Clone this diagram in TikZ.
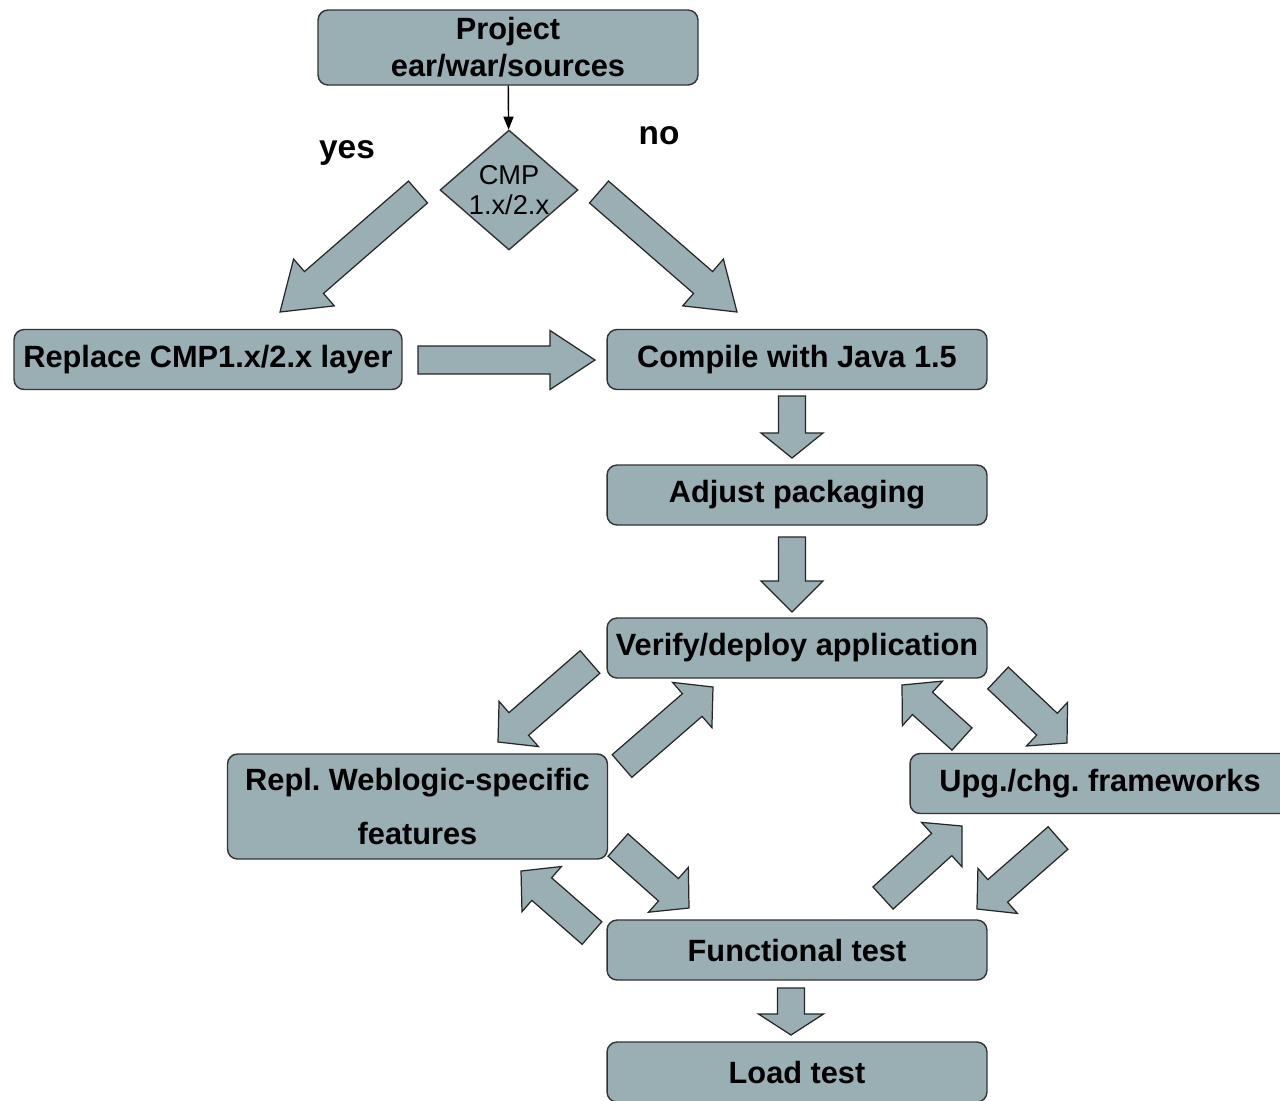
\documentclass[tikz,border=0pt]{standalone}
\usepackage{fontspec}
\setmainfont{Liberation Sans}
\usetikzlibrary{calc,shapes.geometric,arrows.meta}
\definecolor{boxgray}{RGB}{153,175,179}
% block arrow: tail, tip, shaft half width, head half width, head length
\newcommand{\fatarrow}[5]{%
  \draw[fatarr] ($#1!#3!90:#2$) -- ($#2!#5!#1!#3!-90:#1$) -- ($#2!#5!#1!#4!-90:#1$)
    -- #2 -- ($#2!#5!#1!#4!90:#1$) -- ($#2!#5!#1!#3!90:#1$) -- ($#1!#3!-90:#2$) -- cycle;}
\begin{document}
\begin{tikzpicture}[x=0.02cm, y=-0.02cm, font=\fontsize{17.5}{21}\selectfont\bfseries\frenchspacing,
          >={Stealth[length=0.26cm, width=0.2cm, inset=0pt]},
          box/.style={draw=black!80, fill=boxgray, rounded corners=0.2cm, line width=0.8pt,
                      minimum width=7.6cm, minimum height=1.2cm, align=center, inner sep=0pt},
          decide/.style={diamond, draw=black!80, fill=boxgray, line width=0.8pt, minimum width=2.76cm,
                         minimum height=2.4cm, inner sep=0pt, align=center, shape aspect=1.15,
                         font=\fontsize{15.5}{17}\selectfont},
          answer/.style={font=\fontsize{19}{22}\selectfont\bfseries},
          fatarr/.style={draw=black!85, fill=boxgray, line width=0.7pt, line join=miter}]
        \useasboundingbox (0,0) rectangle (1280,1100);
        \node[box, minimum height=1.5cm] (proj) at (508,47.5) {Project\\ear/war/sources};
        \node[decide] (cmp) at (509,190) {CMP\\1.x/2.x};
        \node[answer] (yes) at (347,153) {yes};
        \node[answer] (no) at (659,136) {no};
        \node[box, minimum width=7.76cm] (repl) at (208,359.5) {Replace CMP1.x/2.x layer};
        \node[box] (comp) at (797,359.5) {Compile with Java 1.5};
        \node[box] (pack) at (797,495) {Adjust packaging};
        \node[box] (veri) at (797,648) {Verify/deploy application};
        \node[box, minimum height=2.1cm] (wls) at (417.5,806.5) {Repl. Weblogic-specific\\[10pt]features};
        \node[box] (upg) at (1100,783.5) {Upg./chg. frameworks};
        \node[box] (func) at (797,950) {Functional test};
        \node[box] (load) at (797,1072) {Load test};
        \draw[->, line width=0.8pt] (proj) -- (cmp);
        % arrow ends
        \coordinate (yesT) at (418,192);  \coordinate (yesH) at (280,312);
        \coordinate (noT) at (599,192);   \coordinate (noH) at (737,312);
        \coordinate (replT) at (418,360); \coordinate (replH) at (595,360);
        \coordinate (compT) at (792,396); \coordinate (compH) at (792,458);
        \coordinate (packT) at (792,537); \coordinate (packH) at (792,612);
        \coordinate (funcT) at (791,988); \coordinate (funcH) at (791,1035);
        \coordinate (vwT) at (590,662);   \coordinate (vwH) at (498,742);
        \coordinate (wvT) at (622,766);   \coordinate (wvH) at (713,687);
        \coordinate (uvT) at (962,739);   \coordinate (uvH) at (902,685);
        \coordinate (vuT) at (998,678);   \coordinate (vuH) at (1067,743);
        \coordinate (wfT) at (618,845);   \coordinate (wfH) at (689,908);
        \coordinate (fwT) at (592,933);   \coordinate (fwH) at (521,871);
        \coordinate (fuT) at (883,898);   \coordinate (fuH) at (962,826);
        \coordinate (ufT) at (1058,838);  \coordinate (ufH) at (977,909);
        \fatarrow{(yesT)}{(yesH)}{0.29cm}{0.62cm}{0.9cm}
        \fatarrow{(noT)}{(noH)}{0.29cm}{0.62cm}{0.9cm}
        \fatarrow{(replT)}{(replH)}{0.28cm}{0.59cm}{0.9cm}
        \fatarrow{(compT)}{(compH)}{0.27cm}{0.62cm}{0.5cm}
        \fatarrow{(packT)}{(packH)}{0.27cm}{0.62cm}{0.62cm}
        \fatarrow{(funcT)}{(funcH)}{0.27cm}{0.65cm}{0.42cm}
        \foreach \a in {vw,wv,uv,vu,wf,fw,fu,uf}
          {\fatarrow{(\a T)}{(\a H)}{0.3cm}{0.6cm}{0.55cm}}
      \end{tikzpicture}
\end{document}
